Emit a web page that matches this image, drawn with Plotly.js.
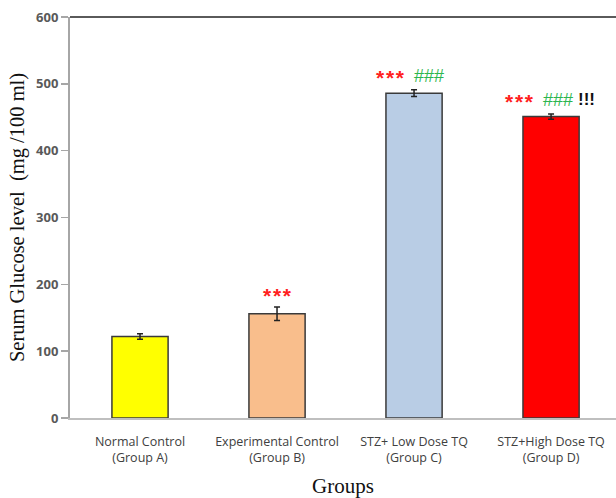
<!DOCTYPE html>
<html>
<head>
<meta charset="utf-8">
<script src="https://cdn.plot.ly/plotly-3.0.1.min.js"></script>
<style>html,body{margin:0;padding:0;background:#fff;}#chart{width:616px;height:498px;}</style>
</head>
<body>
<div id="chart"></div>
<script>
var categories = ["Normal Control<br>(Group A)", "Experimental Control<br>(Group B)", "STZ+ Low Dose TQ<br>(Group C)", "STZ+High Dose TQ<br>(Group D)"];
var values = [122, 156, 486, 451];
var errors = [4, 10, 5, 4];
var barColors = ["#FFFF00", "#F9BE8C", "#B9CDE5", "#FF0000"];
var starLabels = ["", "***", "***", "***"];
var hashLabels = ["", "", "###", "###"];
var bangLabels = ["", "", "", "!!!"];
var yTicks = [0, 100, 200, 300, 400, 500, 600];

var trace = {
  type: "bar",
  x: categories,
  y: values,
  width: 0.41,
  marker: {color: barColors, line: {color: "#3a3a3a", width: 1.5}},
  error_y: {type: "data", array: errors, visible: true, color: "#222", thickness: 1.5, width: 3},
  hoverinfo: "none"
};

function spaced(s) { return s.split("").join("&#8202;"); }

function buildAnnotations() {
  var out = [];
  for (var i = 0; i < categories.length; i++) {
    var yTop = values[i] + errors[i];
    var hasHash = !!hashLabels[i], hasBang = !!bangLabels[i];
    if (starLabels[i]) {
      out.push({
        x: categories[i], y: yTop, xref: "x", yref: "y",
        text: spaced(starLabels[i]), showarrow: false, yanchor: "middle", yshift: 12,
        xshift: hasHash ? (hasBang ? -32 : -24) : 0,
        font: {family: "Liberation Sans, Arial, sans-serif", size: 21, weight: "bold", color: "#FF2020"}
      });
    }
    if (hasHash) {
      out.push({
        x: categories[i], y: yTop, xref: "x", yref: "y",
        text: hashLabels[i], showarrow: false, yanchor: "middle", yshift: 14,
        xshift: hasBang ? 7 : 15,
        font: {family: "Liberation Sans, Arial, sans-serif", size: 18, color: "#2DB54F"}
      });
    }
    if (hasBang) {
      out.push({
        x: categories[i], y: yTop, xref: "x", yref: "y",
        text: bangLabels[i], showarrow: false, yanchor: "middle", yshift: 14,
        xshift: 35,
        font: {family: "Liberation Sans, Arial, sans-serif", size: 17, weight: "bold", color: "#111"}
      });
    }
  }
  return out;
}

var layout = {
  width: 616, height: 498,
  margin: {l: 70, r: 0, t: 17, b: 80},
  paper_bgcolor: "#fff", plot_bgcolor: "#fff",
  showlegend: false,
  xaxis: {
    range: [-0.511, 3.474],
    showline: true, linecolor: "#bfbfbf", linewidth: 2,
    ticks: "", showgrid: false, zeroline: false,
    ticklabelstandoff: 11,
    tickfont: {family: "Open Sans, Liberation Sans, sans-serif", size: 12.5, color: "#404040"},
    title: {text: "Groups", font: {family: "Liberation Serif, Times New Roman, serif", size: 21, color: "#111"}, standoff: 14}
  },
  yaxis: {
    range: [0, 600],
    tickvals: yTicks,
    showline: true, linecolor: "#a6a6a6", linewidth: 2,
    ticks: "outside", ticklen: 7, tickcolor: "#a6a6a6", tickwidth: 1.5,
    showgrid: false, zeroline: false,
    tickfont: {family: "Open Sans, Liberation Sans, sans-serif", size: 13, color: "#595959", weight: "bold"},
    title: {text: "Serum Glucose level  (mg /100 ml)", font: {family: "Liberation Serif, Times New Roman, serif", size: 20.5, color: "#111"}, standoff: 6}
  },
  shapes: [
    {type: "line", xref: "paper", yref: "paper", x0: 0, x1: 1, y0: 1, y1: 1, line: {color: "#5a5a5a", width: 2}}
  ],
  annotations: buildAnnotations()
};

Plotly.newPlot("chart", [trace], layout, {staticPlot: true, displayModeBar: false});
</script>
</body>
</html>
